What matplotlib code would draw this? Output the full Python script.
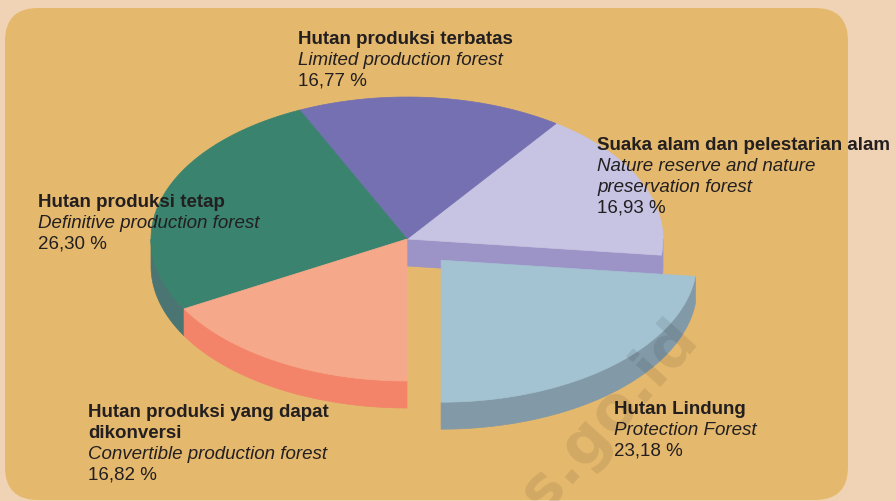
import numpy as np
import matplotlib.pyplot as plt
from matplotlib.patches import Polygon, FancyBboxPatch

# data: order counterclockwise starting from the bottom (270 deg)
names_id = ["Hutan Lindung", "Suaka alam dan pelestarian alam",
            "Hutan produksi terbatas", "Hutan produksi tetap",
            "Hutan produksi yang dapat\ndikonversi"]
names_en = ["Protection Forest", "Nature reserve and nature\npreservation forest",
            "Limited production forest", "Definitive production forest",
            "Convertible production forest"]
values = [23.18, 16.93, 16.77, 26.30, 16.82]
top_colors = ["#A3C2D2", "#C6C3E3", "#7470B2", "#39836F", "#F6A88A"]
side_colors = ["#8299A7", "#9C93C7", "#5E5A96", "#4A7573", "#F38369"]
explode = [0.2, 0, 0, 0, 0]

# label anchors (x, first baseline) in pixels
label_pos = [(614, 414), (597, 150), (298, 44), (38, 207), (88, 417)]

W, H = 896, 501
fig = plt.figure(figsize=(W / 100, H / 100), dpi=100)
fig.patch.set_facecolor("#F0D2B4")
ax = fig.add_axes([0, 0, 1, 1])
ax.set_xlim(0, W)
ax.set_ylim(H, 0)
ax.axis("off")

ax.add_patch(FancyBboxPatch((5 + 33, 8 + 33), 843 - 66, 492 - 66,
                            boxstyle="round,pad=33", fc="#E5B96D", ec="none"))

cx, cy, rx, ry, depth = 407, 239, 256, 142, 27
start = 270.0

angles = []
a = start
for v in values:
    b = a + v / sum(values) * 360
    angles.append((a, b))
    a = b
n = len(values)


def pt(t, ox, oy, dz=0):
    t = np.radians(t)
    return ox + rx * np.cos(t), oy - ry * np.sin(t) + dz


def draw_slice(i, parts):
    a, b = angles[i]
    mid = np.radians((a + b) / 2)
    ox = cx + explode[i] * rx * np.cos(mid)
    oy = cy - explode[i] * ry * np.sin(mid)
    top, side = top_colors[i], side_colors[i]
    if "radial" in parts:
        # only walls facing the viewer and next to an open gap
        walls = []
        if explode[i] > 0 or explode[(i - 1) % n] > 0:
            if np.cos(np.radians(a)) > 1e-6:
                walls.append(a)
        if explode[i] > 0 or explode[(i + 1) % n] > 0:
            if np.cos(np.radians(b)) < -1e-6:
                walls.append(b)
        for t in walls:
            p1 = pt(t, ox, oy)
            quad = [(ox, oy), p1, (p1[0], p1[1] + depth), (ox, oy + depth)]
            ax.add_patch(Polygon(quad, closed=True, fc=side, ec=side, lw=0.5))
    if "outer" in parts:
        for k in range(-1, 3):
            lo, hi = max(a, 180 + 360 * k), min(b, 360 + 360 * k)
            if hi > lo:
                ts = np.linspace(lo, hi, 80)
                up = [pt(t, ox, oy) for t in ts]
                dn = [pt(t, ox, oy, depth) for t in ts[::-1]]
                ax.add_patch(Polygon(up + dn, closed=True, fc=side, ec=side, lw=0.5))
    if "top" in parts:
        ts = np.linspace(a, b, 120)
        poly = [(ox, oy)] + [pt(t, ox, oy) for t in ts]
        ax.add_patch(Polygon(poly, closed=True, fc=top, ec=top, lw=0.5))


rest = [i for i in range(n) if explode[i] == 0]
for part in ("radial", "outer", "top"):
    for i in rest:
        draw_slice(i, [part])
for i in range(n):
    if explode[i] > 0:
        draw_slice(i, ["radial", "outer", "top"])

# labels
fs = 13.5
step = 20.8
tc = "#231F20"
for i in range(n):
    x, y = label_pos[i]
    lines = []
    for s in names_id[i].split("\n"):
        lines.append((s, "bold", "normal"))
    for s in names_en[i].split("\n"):
        lines.append((s, "normal", "italic"))
    lines.append((f"{values[i]:.2f}".replace(".", ",") + " %", "normal", "normal"))
    for j, (s, w, st) in enumerate(lines):
        ax.text(x, y + j * step, s, fontsize=fs, fontweight=w, fontstyle=st,
                family="Liberation Sans", color=tc, va="baseline", ha="left")

# watermark
ax.text(700, 338, "bps.go.id", fontsize=44, fontweight="bold", family="DejaVu Sans",
        color="black", alpha=0.085, rotation=48, rotation_mode="anchor",
        ha="right", va="baseline", clip_on=True)

fig.savefig("out.png", dpi=100, facecolor=fig.get_facecolor())
